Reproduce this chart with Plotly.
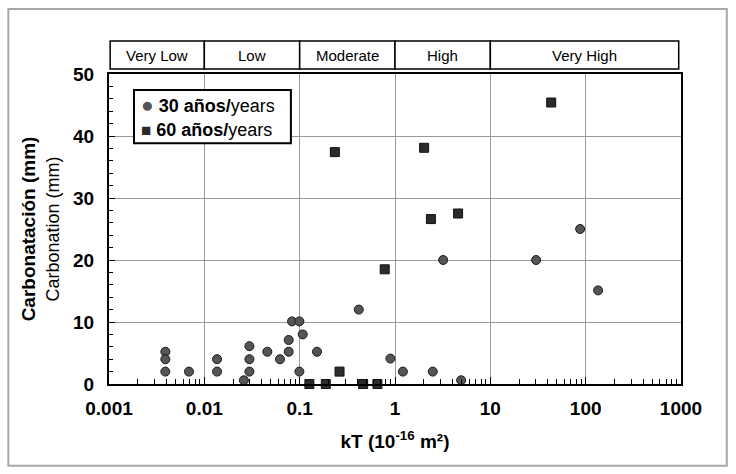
import math
import plotly.graph_objects as go

# Permeability kT (10^-16 m^2) and carbonation depth (mm)
kt_30 = [0.0039, 0.0039, 0.0039, 0.0069, 0.0136, 0.0136, 0.026, 0.0297, 0.0297, 0.0297,
         0.0458, 0.0622, 0.0767, 0.0767, 0.0832, 0.0993, 0.1077, 0.0993, 0.152,
         0.417, 0.895, 1.21, 2.49, 3.2, 4.94, 30.2, 87.5, 135]
carb_30 = [5.2, 4.0, 2.0, 2.0, 4.0, 2.0, 0.6, 6.1, 4.0, 2.0,
           5.2, 4.0, 7.1, 5.2, 10.1, 10.1, 8.0, 2.0, 5.2,
           12.0, 4.1, 2.0, 2.0, 20.0, 0.6, 20.0, 25.0, 15.1]

kt_60 = [0.1264, 0.188, 0.262, 0.234, 0.463, 0.654, 0.78, 2.02, 2.38, 4.59, 43.5]
carb_60 = [0.0, 0.0, 2.0, 37.4, 0.0, 0.0, 18.5, 38.1, 26.6, 27.5, 45.4]

series_names = ["<b>30 años/</b>years", "<b>60 años/</b>years"]

# Permeability classes shown in the band above the plot
class_labels = ["Very Low", "Low", "Moderate", "High", "Very High"]
class_edges = [0.001, 0.01, 0.1, 1, 10, 1000]

x_ticks = [0.001, 0.01, 0.1, 1, 10, 100, 1000]
x_tick_text = ["0.001", "0.01", "0.1", "1", "10", "100", "1000"]
y_ticks = [0, 10, 20, 30, 40, 50]

FONT = "Liberation Sans, Arial, sans-serif"
XMIN, XMAX = 0.001, 1000
CIRCLE_FILL = "#555555"
SQUARE_FILL = "#2b2b2b"


def xpaper(v):
    return (math.log10(v) - math.log10(XMIN)) / (math.log10(XMAX) - math.log10(XMIN))


fig = go.Figure()

fig.add_trace(go.Scatter(
    x=kt_30, y=carb_30, mode="markers", cliponaxis=False,
    name=series_names[0], showlegend=False,
    marker=dict(symbol="circle", size=9, color=CIRCLE_FILL,
                line=dict(color="#1a1a1a", width=1)),
))
fig.add_trace(go.Scatter(
    x=kt_60, y=carb_60, mode="markers", cliponaxis=False,
    name=series_names[1], showlegend=False,
    marker=dict(symbol="square", size=9, color=SQUARE_FILL,
                line=dict(color="#111111", width=1)),
))

shapes = []
annotations = []

# Class band
band_y0, band_y1 = 1.016, 1.1065
for label, lo, hi in zip(class_labels, class_edges[:-1], class_edges[1:]):
    x0 = max(xpaper(lo), 0.002)
    x1 = min(xpaper(hi), 0.996)
    shapes.append(dict(type="rect", xref="paper", yref="paper",
                       x0=x0, x1=x1, y0=band_y0, y1=band_y1,
                       line=dict(color="black", width=1.5), fillcolor="white"))
    annotations.append(dict(xref="paper", yref="paper", x=(x0 + x1) / 2,
                            y=(band_y0 + band_y1) / 2, text=label, showarrow=False,
                            font=dict(family=FONT, size=15, color="black"),
                            xanchor="center", yanchor="middle"))

# Legend box with symbol keys
shapes.append(dict(type="rect", xref="paper", yref="paper",
                   x0=0.0437, x1=0.318, y0=0.777, y1=0.948,
                   line=dict(color="black", width=2), fillcolor="white"))
legend_keys = [
    f"<span style='font-size:21px;color:{CIRCLE_FILL}'>●</span> {series_names[0]}",
    f"<span style='font-size:17px;color:{SQUARE_FILL}'>■</span> {series_names[1]}",
]
for key, ly in zip(legend_keys, [0.903, 0.819]):
    annotations.append(dict(xref="paper", yref="paper", x=0.052, y=ly,
                            text=key, showarrow=False, xanchor="left", yanchor="middle",
                            font=dict(family=FONT, size=18, color="black")))

# Outer frame of the figure
shapes.append(dict(type="rect", xref="paper", yref="paper",
                   x0=-0.176, x1=1.08, y0=-0.264, y1=1.21,
                   line=dict(color="#a8a8a8", width=2), fillcolor="rgba(0,0,0,0)",
                   layer="below"))

fig.update_layout(
    width=736, height=474,
    margin=dict(l=109, r=55, t=74, b=90),
    paper_bgcolor="white", plot_bgcolor="white",
    font=dict(family=FONT, color="black"),
    shapes=shapes, annotations=annotations,
    showlegend=False,
)

fig.update_xaxes(
    type="log", range=[math.log10(XMIN), math.log10(XMAX)],
    tickvals=x_ticks, ticktext=x_tick_text,
    tickfont=dict(family=FONT, size=19, color="black", weight="bold"),
    ticks="inside", ticklen=7, tickcolor="black", tickwidth=1,
    ticklabelstandoff=6,
    minor=dict(ticks="inside", ticklen=5, tickcolor="black", tickwidth=1,
               dtick="D1", showgrid=False),
    showgrid=True, gridcolor="#9a9a9a", gridwidth=1,
    showline=True, linecolor="black", linewidth=2, mirror=True,
    title=dict(text="<b>kT (10<sup>-16</sup> m²)</b>",
               font=dict(family=FONT, size=19, color="black"), standoff=17),
)

fig.update_yaxes(
    range=[0, 50], tickvals=y_ticks,
    tickfont=dict(family=FONT, size=19, color="black", weight="bold"),
    ticks="inside", ticklen=6, tickcolor="black", tickwidth=1,
    ticklabelstandoff=9,
    minor=dict(ticks="inside", ticklen=4, tickcolor="black", tickwidth=1,
               dtick=2, showgrid=False),
    showgrid=True, gridcolor="#9a9a9a", gridwidth=1,
    showline=True, linecolor="black", linewidth=2, mirror=True,
    zeroline=False,
    title=dict(text="<b>Carbonatación (mm)</b><br><span style='font-size:18px'>Carbonation (mm)</span>",
               font=dict(family=FONT, size=19, color="black"), standoff=8),
)

fig.write_html("out.html")
